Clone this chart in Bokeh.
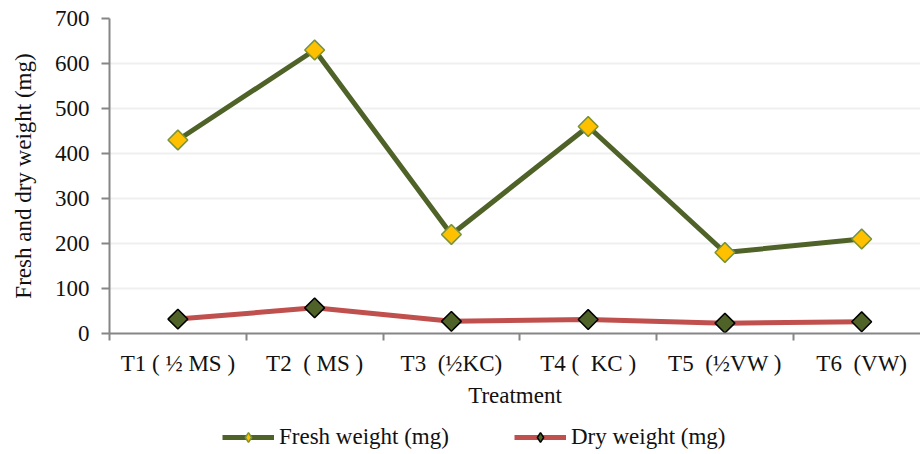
import math
from bokeh.plotting import figure
from bokeh.layouts import column
from bokeh.models import Range1d, FixedTicker, Legend, LegendItem
from bokeh.embed import file_html
from bokeh.resources import INLINE

NB = "\u00a0"
categories = ["T1 ( \u00bd MS )", "T2 " + NB + "( MS )", "T3 " + NB + "(\u00bdKC)",
              "T4 ( " + NB + "KC )", "T5 " + NB + "(\u00bdVW )", "T6 " + NB + "(VW)"]
fresh_weight = [430, 630, 220, 460, 180, 210]
dry_weight = [32, 57, 27, 31, 23, 26]
y_ticks = [0, 100, 200, 300, 400, 500, 600, 700]
series_names = ["Fresh weight (mg)", "Dry weight (mg)"]

FONT = "Liberation Serif"
xs = [i + 0.5 for i in range(len(categories))]

FRESH_LINE, FRESH_FILL, FRESH_EDGE = "#4F6228", "#FFC000", "#77933C"
DRY_LINE, DRY_FILL, DRY_EDGE = "#C0504D", "#4F6228", "#000000"

p = figure(width=920, height=410, output_backend="svg", toolbar_location=None,
           x_range=Range1d(0, 5.93), y_range=Range1d(0, 700),
           min_border_left=109, min_border_top=18, min_border_right=0, min_border_bottom=77)
p.outline_line_color = None
p.background_fill_color = "white"
p.border_fill_color = "white"

p.xgrid.grid_line_color = None
p.ygrid.grid_line_color = "#EFEFEF"
p.ygrid.grid_line_width = 2

p.xaxis.ticker = FixedTicker(ticks=xs, minor_ticks=list(range(len(categories) + 1)))
p.xaxis.major_label_overrides = {x: c for x, c in zip(xs, categories)}
p.xaxis.major_tick_line_color = None
p.xaxis.minor_tick_out = 7
p.xaxis.minor_tick_in = 0
p.xaxis.minor_tick_line_color = "#868686"
p.xaxis.minor_tick_line_width = 2
p.xaxis.axis_label = "Treatment"

p.yaxis.ticker = FixedTicker(ticks=y_ticks)
p.yaxis.minor_tick_line_color = None
p.yaxis.major_tick_out = 8
p.yaxis.major_tick_in = 0
p.yaxis.major_tick_line_color = "#868686"
p.yaxis.major_tick_line_width = 2
p.yaxis.axis_label = "Fresh and dry weight (mg)"
p.yaxis.major_label_standoff = 12
p.yaxis.axis_label_standoff = 16

for ax in (p.xaxis, p.yaxis):
    ax.axis_line_color = "#868686"
    ax.axis_line_width = 2
    ax.major_label_text_font = FONT
    ax.major_label_text_font_size = "23px"
    ax.major_label_text_color = "#111111"
    ax.axis_label_text_font = FONT
    ax.axis_label_text_font_size = "23px"
    ax.axis_label_text_font_style = "normal"
    ax.axis_label_text_color = "#111111"
p.xaxis.major_label_standoff = 10
p.xaxis.axis_label_standoff = 4

p.line(xs, fresh_weight, line_color=FRESH_LINE, line_width=5)
p.scatter(xs, fresh_weight, marker="square", size=14, angle=math.pi / 4,
          fill_color=FRESH_FILL, line_color=FRESH_EDGE, line_width=1.5)
p.line(xs, dry_weight, line_color=DRY_LINE, line_width=5)
p.scatter(xs, dry_weight, marker="square", size=14, angle=math.pi / 4,
          fill_color=DRY_FILL, line_color=DRY_EDGE, line_width=1.5)

# legend strip below the chart; its renderers lie outside its visible range,
# so only the legend samples show
q = figure(width=920, height=44, output_backend="svg", toolbar_location=None,
           x_range=Range1d(0, 5.93), y_range=Range1d(5000, 5001),
           x_axis_location=None, y_axis_location=None,
           min_border_left=0, min_border_top=0, min_border_right=0, min_border_bottom=0)
q.outline_line_color = None
q.xgrid.grid_line_color = None
q.ygrid.grid_line_color = None
q.border_fill_color = "white"
q.background_fill_color = "white"

lf = q.line(xs, fresh_weight, line_color=FRESH_LINE, line_width=5)
sf = q.scatter(xs, fresh_weight, marker="diamond", size=19,
               fill_color=FRESH_FILL, line_color=FRESH_EDGE, line_width=1.5)
ld = q.line(xs, dry_weight, line_color=DRY_LINE, line_width=5)
sd = q.scatter(xs, dry_weight, marker="diamond", size=19,
               fill_color=DRY_FILL, line_color=DRY_EDGE, line_width=1.5)

legend = Legend(items=[LegendItem(label=series_names[0], renderers=[lf, sf]),
                       LegendItem(label=series_names[1], renderers=[ld, sd])],
                orientation="horizontal", location=(113, 4),
                label_text_font=FONT, label_text_font_size="23px", label_text_color="#111111",
                glyph_width=52, glyph_height=24, label_standoff=5, spacing=65,
                label_height=24,
                border_line_color=None, background_fill_alpha=0, padding=0, margin=0)
q.add_layout(legend)

layout = column(p, q, spacing=0)
open("out.html", "w").write(file_html(layout, INLINE))
